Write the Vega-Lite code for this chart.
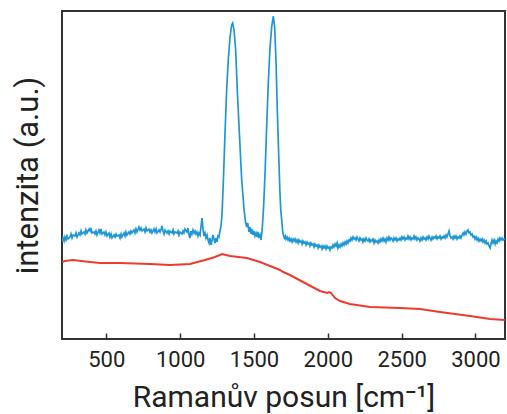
{
  "$schema": "https://vega.github.io/schema/vega-lite/v6.json",
  "width": 443,
  "height": 328,
  "autosize": "none",
  "padding": {"left": 62, "top": 11, "right": 2, "bottom": 75},
  "config": {"view": {"stroke": "#333333", "strokeWidth": 2}, "font": "Roboto"},
  "datasets": {
    "blue": [
      {"x":200,"y":97},{"x":207,"y":101},{"x":214,"y":98},{"x":220,"y":102},{"x":227,"y":99},{"x":234,"y":103},{"x":241,"y":100},{"x":254,"y":102},{"x":261,"y":105},{"x":268,"y":101},{"x":275,"y":104},{"x":288,"y":103},{"x":295,"y":106},{"x":302,"y":102},{"x":315,"y":106},{"x":322,"y":104},{"x":329,"y":108},{"x":335,"y":105},{"x":349,"y":107},{"x":356,"y":105},{"x":362,"y":109},{"x":369,"y":106},{"x":383,"y":110},{"x":390,"y":108},{"x":396,"y":111},{"x":403,"y":106},{"x":417,"y":107},{"x":423,"y":105},{"x":430,"y":108},{"x":437,"y":104},{"x":450,"y":109},{"x":457,"y":106},{"x":464,"y":110},{"x":471,"y":105},{"x":484,"y":107},{"x":491,"y":104},{"x":498,"y":107},{"x":505,"y":103},{"x":518,"y":106},{"x":525,"y":102},{"x":532,"y":105},{"x":539,"y":101},{"x":552,"y":104},{"x":559,"y":102},{"x":566,"y":105},{"x":572,"y":103},{"x":586,"y":104},{"x":593,"y":101},{"x":600,"y":105},{"x":606,"y":102},{"x":620,"y":106},{"x":627,"y":103},{"x":633,"y":107},{"x":640,"y":104},{"x":653,"y":107},{"x":660,"y":105},{"x":667,"y":108},{"x":674,"y":106},{"x":687,"y":109},{"x":694,"y":106},{"x":701,"y":110},{"x":708,"y":107},{"x":721,"y":112},{"x":728,"y":109},{"x":735,"y":111},{"x":742,"y":108},{"x":755,"y":110},{"x":762,"y":107},{"x":769,"y":111},{"x":776,"y":108},{"x":789,"y":110},{"x":796,"y":107},{"x":803,"y":109},{"x":809,"y":106},{"x":823,"y":110},{"x":830,"y":107},{"x":837,"y":110},{"x":843,"y":106},{"x":857,"y":109},{"x":864,"y":107},{"x":871,"y":110},{"x":877,"y":113},{"x":884,"y":108},{"x":891,"y":105},{"x":898,"y":109},{"x":911,"y":106},{"x":918,"y":108},{"x":925,"y":105},{"x":931,"y":108},{"x":945,"y":106},{"x":952,"y":109},{"x":958,"y":105},{"x":965,"y":107},{"x":979,"y":106},{"x":986,"y":108},{"x":992,"y":104},{"x":999,"y":107},{"x":1013,"y":105},{"x":1019,"y":108},{"x":1026,"y":106},{"x":1033,"y":110},{"x":1046,"y":107},{"x":1053,"y":111},{"x":1060,"y":104},{"x":1067,"y":101},{"x":1073,"y":108},{"x":1080,"y":105},{"x":1087,"y":109},{"x":1094,"y":106},{"x":1101,"y":108},{"x":1107,"y":105},{"x":1114,"y":107},{"x":1121,"y":103},{"x":1128,"y":106},{"x":1135,"y":104},{"x":1141,"y":112},{"x":1148,"y":121},{"x":1155,"y":110},{"x":1161,"y":103},{"x":1168,"y":106},{"x":1175,"y":101},{"x":1182,"y":104},{"x":1189,"y":99},{"x":1196,"y":96},{"x":1202,"y":101},{"x":1209,"y":94},{"x":1216,"y":99},{"x":1222,"y":104},{"x":1229,"y":100},{"x":1236,"y":96},{"x":1243,"y":101},{"x":1250,"y":97},{"x":1256,"y":103},{"x":1263,"y":102},{"x":1270,"y":108},{"x":1277,"y":113},{"x":1284,"y":126},{"x":1293,"y":159},{"x":1304,"y":206},{"x":1315,"y":249},{"x":1326,"y":279},{"x":1338,"y":302},{"x":1349,"y":314},{"x":1356,"y":316},{"x":1365,"y":309},{"x":1376,"y":289},{"x":1387,"y":249},{"x":1401,"y":206},{"x":1417,"y":159},{"x":1433,"y":129},{"x":1442,"y":118},{"x":1451,"y":112},{"x":1458,"y":116},{"x":1466,"y":107},{"x":1473,"y":112},{"x":1480,"y":105},{"x":1487,"y":110},{"x":1493,"y":104},{"x":1500,"y":108},{"x":1507,"y":103},{"x":1514,"y":106},{"x":1521,"y":102},{"x":1527,"y":107},{"x":1534,"y":101},{"x":1541,"y":104},{"x":1548,"y":99},{"x":1554,"y":107},{"x":1558,"y":115},{"x":1563,"y":126},{"x":1569,"y":145},{"x":1575,"y":166},{"x":1586,"y":212},{"x":1597,"y":256},{"x":1609,"y":292},{"x":1620,"y":312},{"x":1631,"y":323},{"x":1640,"y":312},{"x":1649,"y":279},{"x":1658,"y":229},{"x":1668,"y":182},{"x":1676,"y":146},{"x":1682,"y":128},{"x":1688,"y":119},{"x":1694,"y":108},{"x":1699,"y":104},{"x":1706,"y":101},{"x":1712,"y":103},{"x":1717,"y":100},{"x":1724,"y":102},{"x":1731,"y":99},{"x":1738,"y":101},{"x":1744,"y":98},{"x":1751,"y":100},{"x":1758,"y":97},{"x":1765,"y":100},{"x":1771,"y":98},{"x":1778,"y":100},{"x":1785,"y":97},{"x":1792,"y":99},{"x":1799,"y":96},{"x":1805,"y":99},{"x":1812,"y":97},{"x":1819,"y":98},{"x":1826,"y":95},{"x":1832,"y":98},{"x":1839,"y":96},{"x":1846,"y":97},{"x":1853,"y":94},{"x":1860,"y":97},{"x":1866,"y":95},{"x":1873,"y":96},{"x":1879,"y":93},{"x":1886,"y":96},{"x":1893,"y":94},{"x":1900,"y":95},{"x":1907,"y":92},{"x":1913,"y":95},{"x":1920,"y":93},{"x":1927,"y":94},{"x":1934,"y":91},{"x":1940,"y":94},{"x":1947,"y":92},{"x":1954,"y":93},{"x":1961,"y":90},{"x":1967,"y":93},{"x":1974,"y":91},{"x":1981,"y":93},{"x":1988,"y":90},{"x":1995,"y":93},{"x":2001,"y":91},{"x":2008,"y":92},{"x":2015,"y":89},{"x":2022,"y":92},{"x":2029,"y":91},{"x":2035,"y":94},{"x":2042,"y":92},{"x":2049,"y":95},{"x":2056,"y":93},{"x":2063,"y":96},{"x":2069,"y":91},{"x":2076,"y":94},{"x":2083,"y":92},{"x":2090,"y":95},{"x":2096,"y":93},{"x":2103,"y":96},{"x":2110,"y":94},{"x":2117,"y":97},{"x":2124,"y":95},{"x":2130,"y":98},{"x":2137,"y":96},{"x":2144,"y":99},{"x":2150,"y":98},{"x":2157,"y":101},{"x":2164,"y":99},{"x":2171,"y":102},{"x":2178,"y":100},{"x":2184,"y":101},{"x":2191,"y":99},{"x":2198,"y":102},{"x":2205,"y":100},{"x":2211,"y":98},{"x":2218,"y":101},{"x":2225,"y":99},{"x":2232,"y":100},{"x":2238,"y":97},{"x":2245,"y":100},{"x":2252,"y":98},{"x":2259,"y":101},{"x":2265,"y":99},{"x":2272,"y":98},{"x":2279,"y":100},{"x":2286,"y":97},{"x":2292,"y":99},{"x":2299,"y":98},{"x":2306,"y":100},{"x":2313,"y":96},{"x":2320,"y":99},{"x":2326,"y":97},{"x":2333,"y":98},{"x":2340,"y":96},{"x":2347,"y":99},{"x":2353,"y":97},{"x":2360,"y":100},{"x":2367,"y":98},{"x":2374,"y":101},{"x":2381,"y":98},{"x":2387,"y":100},{"x":2394,"y":97},{"x":2401,"y":101},{"x":2408,"y":99},{"x":2414,"y":102},{"x":2421,"y":99},{"x":2428,"y":101},{"x":2435,"y":100},{"x":2442,"y":98},{"x":2448,"y":101},{"x":2455,"y":99},{"x":2462,"y":101},{"x":2469,"y":98},{"x":2475,"y":100},{"x":2482,"y":99},{"x":2489,"y":101},{"x":2496,"y":99},{"x":2502,"y":102},{"x":2509,"y":100},{"x":2516,"y":102},{"x":2523,"y":99},{"x":2530,"y":101},{"x":2537,"y":100},{"x":2543,"y":103},{"x":2550,"y":100},{"x":2557,"y":102},{"x":2564,"y":99},{"x":2570,"y":101},{"x":2577,"y":100},{"x":2584,"y":103},{"x":2591,"y":100},{"x":2597,"y":102},{"x":2604,"y":99},{"x":2611,"y":101},{"x":2618,"y":100},{"x":2624,"y":98},{"x":2631,"y":101},{"x":2638,"y":99},{"x":2645,"y":102},{"x":2652,"y":100},{"x":2658,"y":101},{"x":2665,"y":99},{"x":2672,"y":102},{"x":2679,"y":100},{"x":2685,"y":103},{"x":2692,"y":101},{"x":2699,"y":99},{"x":2706,"y":102},{"x":2712,"y":100},{"x":2719,"y":102},{"x":2726,"y":101},{"x":2733,"y":103},{"x":2740,"y":100},{"x":2746,"y":102},{"x":2753,"y":101},{"x":2760,"y":103},{"x":2767,"y":100},{"x":2774,"y":102},{"x":2780,"y":101},{"x":2787,"y":103},{"x":2794,"y":101},{"x":2801,"y":104},{"x":2807,"y":102},{"x":2814,"y":105},{"x":2821,"y":108},{"x":2828,"y":103},{"x":2834,"y":101},{"x":2841,"y":102},{"x":2848,"y":100},{"x":2855,"y":103},{"x":2861,"y":101},{"x":2868,"y":103},{"x":2875,"y":100},{"x":2882,"y":102},{"x":2889,"y":101},{"x":2895,"y":103},{"x":2902,"y":101},{"x":2909,"y":104},{"x":2916,"y":106},{"x":2922,"y":104},{"x":2929,"y":107},{"x":2936,"y":105},{"x":2943,"y":108},{"x":2949,"y":109},{"x":2956,"y":106},{"x":2963,"y":107},{"x":2970,"y":104},{"x":2977,"y":105},{"x":2983,"y":102},{"x":2990,"y":103},{"x":2997,"y":100},{"x":3004,"y":102},{"x":3011,"y":99},{"x":3017,"y":101},{"x":3024,"y":98},{"x":3031,"y":100},{"x":3038,"y":98},{"x":3045,"y":100},{"x":3051,"y":97},{"x":3058,"y":99},{"x":3065,"y":96},{"x":3072,"y":98},{"x":3078,"y":95},{"x":3085,"y":96},{"x":3092,"y":93},{"x":3099,"y":91},{"x":3105,"y":95},{"x":3112,"y":99},{"x":3119,"y":96},{"x":3126,"y":99},{"x":3133,"y":95},{"x":3139,"y":98},{"x":3146,"y":96},{"x":3153,"y":100},{"x":3160,"y":98},{"x":3166,"y":101},{"x":3173,"y":99},{"x":3180,"y":101},{"x":3187,"y":99},{"x":3194,"y":100},{"x":3200,"y":99}
    ],
    "red": [
      {"x":200,"y":77},{"x":220,"y":78},{"x":274,"y":79},{"x":390,"y":77},{"x":457,"y":76},{"x":593,"y":76},{"x":796,"y":75},{"x":931,"y":74},{"x":1067,"y":75},{"x":1168,"y":79},{"x":1236,"y":82},{"x":1284,"y":85},{"x":1338,"y":83},{"x":1453,"y":81},{"x":1541,"y":77},{"x":1609,"y":73},{"x":1676,"y":69},{"x":1699,"y":67},{"x":1744,"y":64},{"x":1832,"y":57},{"x":1947,"y":48},{"x":1995,"y":46},{"x":2008,"y":47},{"x":2022,"y":46},{"x":2049,"y":41},{"x":2083,"y":38},{"x":2150,"y":35},{"x":2286,"y":32},{"x":2489,"y":31},{"x":2624,"y":30},{"x":2760,"y":27},{"x":2963,"y":23},{"x":3099,"y":20},{"x":3200,"y":19}
    ]
  },
  "layer": [
    {
      "data": {"name": "blue"},
      "mark": {"type": "line", "color": "#1f97d4", "strokeWidth": 1.7, "clip": true},
      "encoding": {
        "x": {"field": "x", "type": "quantitative"},
        "y": {"field": "y", "type": "quantitative"}
      }
    },
    {
      "data": {"name": "red"},
      "mark": {"type": "line", "color": "#ee3b30", "strokeWidth": 2, "clip": true},
      "encoding": {
        "x": {"field": "x", "type": "quantitative"},
        "y": {"field": "y", "type": "quantitative"}
      }
    }
  ],
  "encoding": {
    "x": {
      "field": "x", "type": "quantitative",
      "scale": {"domain": [200, 3200], "nice": false, "zero": false},
      "axis": {
        "values": [500, 1000, 1500, 2000, 2500, 3000],
        "format": "d",
        "domain": false, "grid": false,
        "tickSize": -6, "tickColor": "#333333", "tickWidth": 1.5,
        "labelFont": "Roboto", "labelFontSize": 22, "labelColor": "#222222",
        "labelBaseline": "alphabetic", "labelPadding": 33,
        "title": "Ramanův posun [cm⁻¹]",
        "titleFont": "Roboto", "titleFontSize": 30, "titleFontWeight": "normal", "titleColor": "#222222",
        "titleBaseline": "alphabetic", "titleY": 67
      }
    },
    "y": {
      "field": "y", "type": "quantitative",
      "scale": {"domain": [0, 328], "nice": false, "zero": false},
      "axis": {
        "domain": false, "grid": false, "ticks": false, "labels": false,
        "title": "intenzita (a.u.)",
        "titleFont": "Roboto", "titleFontSize": 31, "titleFontWeight": "normal", "titleColor": "#222222",
        "titleBaseline": "alphabetic", "titleX": -25, "titleY": 164, "titleAngle": -90
      }
    }
  }
}
